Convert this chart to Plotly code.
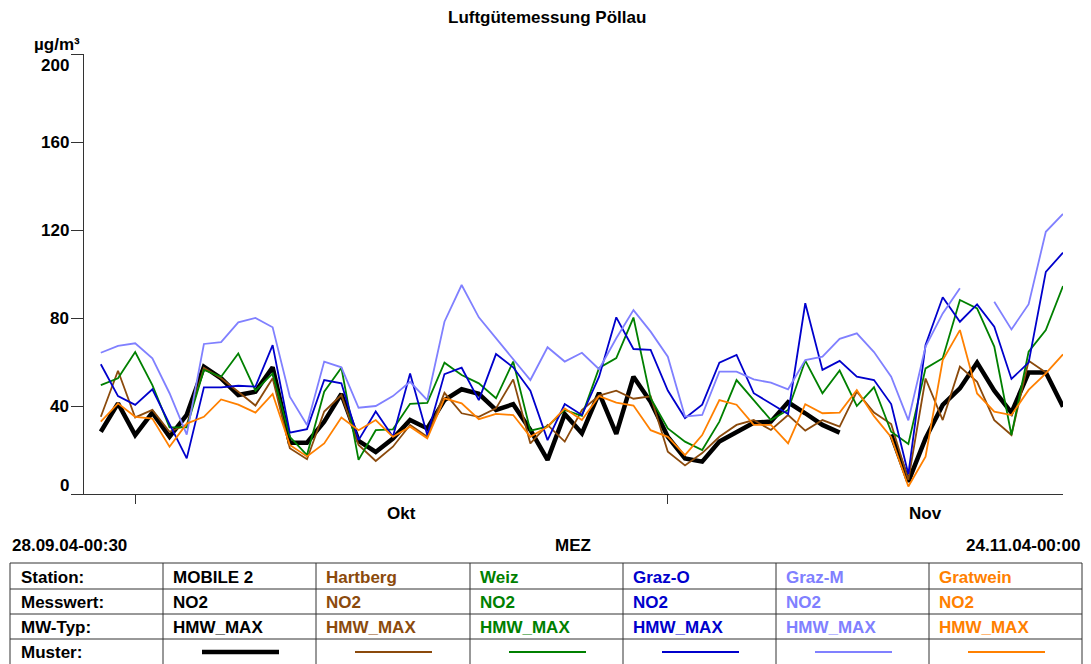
import plotly.graph_objects as go
import pandas as pd

# ---------------- data ----------------
dates = pd.date_range("2004-09-29", periods=57, freq="D")

stations = ["MOBILE 2", "Hartberg", "Weiz", "Graz-O", "Graz-M", "Gratwein"]
messwert = ["NO2"] * 6
mw_typ = ["HMW_MAX"] * 6

mobile2 = [28.3, 41.2, 26.8, 37.0, 26.0, 36.0, 57.9, 52.6, 45.0, 46.5,
           57.6, 23.3, 23.3, 32.9, 45.5, 24.2, 19.1, 25.2, 33.6,
           29.8, 42.7, 47.6, 45.5, 38.2, 40.8, 29.1, 15.5, 36.4,
           27.6, 46.0, 27.3, 53.3, 41.9, 26.0, 16.2, 14.7, 23.8,
           28.3, 32.4, 32.9, 41.7, 36.7, 31.4, 27.9, None, None,
           27.0, 5.6, 25.3, 40.5, 48.0, 59.7, 47.0, 37.0, 55.2, 55.2, 39.7]

hartberg = [35.1, 56.0, 34.8, 38.2, 28.3, 31.4, 57.3, 52.6, 46.5, 40.2,
            52.6, 20.8, 15.8, 37.5, 45.0, 22.3, 15.0, 21.5, 31.4,
            26.0, 46.0, 36.7, 35.1, 38.9, 52.1, 23.0, 31.4, 23.8,
            38.2, 44.7, 47.0, 43.3, 44.4, 19.2, 13.0, 18.6, 26.0,
            31.4, 33.6, 29.1, 35.9, 28.8, 33.6, 30.6, 46.5, 37.0, 31.8,
            6.4, 52.5, 33.6, 57.9, 51.0, 33.6, 26.8, 60.6, 55.2, None]

weiz = [49.5, 52.6, 64.5, 49.5, 30.3, 30.3, 56.4, 53.3, 63.9, 47.0,
        54.8, 26.0, 17.7, 46.5, 57.4, 15.5, 29.0, 29.4, 41.0,
        41.4, 59.7, 54.1, 50.3, 43.5, 60.2, 28.8, 30.6, 38.2,
        35.5, 57.3, 61.8, 80.2, 43.5, 29.8, 23.8, 20.0, 32.9,
        51.8, 42.7, 33.6, 38.2, 60.6, 45.8, 56.1, 40.0, 48.5, 28.3,
        22.7, 57.1, 61.7, 88.2, 84.4, 67.0, 26.8, 64.7, 74.5, 94.5]

graz_o = [59.0, 44.5, 40.5, 47.6, 31.8, 16.2, 48.5, 48.5, 49.2, 48.8,
          67.7, 27.9, 29.5, 51.8, 50.3, 24.5, 37.5, 26.0, 54.8,
          26.8, 54.5, 57.4, 42.7, 63.6, 57.6, 47.0, 24.5, 40.9,
          35.9, 53.3, 80.3, 65.9, 65.5, 47.0, 34.5, 40.6, 59.7,
          63.2, 45.8, 41.2, 36.4, 86.7, 56.4, 60.5, 53.3, 51.8, 40.9,
          9.0, 67.7, 89.4, 78.3, 86.2, 76.0, 52.3, 59.7, 101.0, 109.7]

graz_m = [64.2, 67.3, 68.5, 61.7, 45.8, 27.0, 68.2, 69.0, 78.0, 80.0,
          75.8, 44.2, 31.4, 60.2, 57.6, 39.2, 40.0, 44.5, 51.0,
          42.7, 78.3, 95.0, 80.3, 70.8, 61.2, 51.8, 66.7, 60.2,
          64.2, 56.7, 70.8, 83.6, 73.8, 62.4, 35.2, 35.9, 55.6,
          55.6, 52.1, 50.6, 47.6, 60.9, 62.4, 70.5, 73.0, 64.5, 53.3,
          33.5, 67.0, 82.1, 93.5, None, 87.4, 74.8, 86.3, 119.2, 127.3]

gratwein = [32.9, 41.2, 35.1, 34.3, 21.5, 32.0, 35.1, 43.0, 40.6, 37.0,
            45.5, 22.3, 17.1, 23.0, 34.8, 29.0, 33.6, 26.0, 30.6,
            25.3, 43.5, 41.2, 34.0, 36.4, 35.9, 26.0, 30.6, 38.9,
            33.6, 44.5, 41.5, 40.2, 29.0, 26.0, 17.7, 26.8, 42.7,
            40.6, 31.4, 31.4, 23.0, 40.8, 36.7, 37.0, 47.3, 35.4, 25.8,
            3.4, 17.0, 60.9, 74.5, 45.7, 37.4, 35.9, 47.3, 54.8, 63.5]

series = [mobile2, hartberg, weiz, graz_o, graz_m, gratwein]

y_ticks = [0, 40, 80, 120, 160, 200]
month_ticks = ["2004-10-01", "2004-11-01"]
month_labels = ["Okt", "Nov"]
month_label_pos = ["2004-10-16 12:00", "2004-11-16"]
x_start, x_end = "2004-09-28 00:30", "2004-11-24 00:00"

# ---------------- styles ----------------
colors = ["#000000", "#8B4A0C", "#008000", "#0000CC", "#8080FF", "#FF8000"]
widths = [4.5, 1.8, 1.8, 1.8, 1.8, 1.8]

W, H = 1091, 664
L, R, T, B = 84, 1063, 54, 494
FONT = "Liberation Sans, Arial, Helvetica, sans-serif"
FS = 17


def px(x):
    return (x - L) / (R - L)


def py(y):
    return (B - y) / (B - T)


fig = go.Figure()
for name, vals, c, w in zip(stations, series, colors, widths):
    fig.add_trace(go.Scatter(x=dates, y=vals, mode="lines", name=name,
                             line=dict(color=c, width=w), connectgaps=False))

annotations = []
shapes = []


def txt(x, y, s, anchor="left", color="#000", size=FS):
    annotations.append(dict(xref="paper", yref="paper", x=px(x), y=py(y),
                            text="<b>%s</b>" % s, showarrow=False,
                            xanchor=anchor, yanchor="middle",
                            font=dict(family=FONT, size=size, color=color)))


def line(x0, y0, x1, y1, color="#333", width=1):
    shapes.append(dict(type="line", xref="paper", yref="paper",
                       x0=px(x0), y0=py(y0), x1=px(x1), y1=py(y1),
                       line=dict(color=color, width=width)))


# title and unit
txt(547, 17, "Luftgütemessung Pöllau", "center")
txt(82, 45, "µg/m³", "right")

# y tick labels (top and bottom labels are pulled inward)
for v in y_ticks:
    shift = 0
    if v == 200:
        shift = -11
    elif v == 0:
        shift = 9
    annotations.append(dict(xref="paper", yref="y", x=px(71), y=v, yshift=shift,
                            text="<b>%d</b>" % v, showarrow=False,
                            xanchor="right", yanchor="middle",
                            font=dict(family=FONT, size=FS, color="#000")))

# month labels
for pos, lab in zip(month_label_pos, month_labels):
    annotations.append(dict(xref="x", yref="paper", x=pos, y=py(513),
                            text="<b>%s</b>" % lab, showarrow=False,
                            xanchor="center", yanchor="middle",
                            font=dict(family=FONT, size=FS, color="#000")))

# period row
txt(10, 545, "28.09.04-00:30", "left")
txt(573, 545, "MEZ", "center")
txt(1082, 545, "24.11.04-00:00", "right")

# table
col_x = [10, 163, 316, 470, 623, 776, 929, 1082]
row_y = [563, 589, 614, 639, 664]
for yy in row_y[:-1]:
    line(col_x[0], yy, col_x[-1], yy)
for xx in col_x:
    line(xx, row_y[0], xx, 664)

row_labels = ["Station:", "Messwert:", "MW-Typ:", "Muster:"]
row_centers = [577, 602, 627, 652]
for lab, yc in zip(row_labels, row_centers):
    txt(19, yc, lab)

for i in range(6):
    cx = col_x[i + 1]
    txt(cx + 8, row_centers[0], stations[i], color=colors[i])
    txt(cx + 8, row_centers[1], messwert[i], color=colors[i])
    txt(cx + 8, row_centers[2], mw_typ[i], color=colors[i])
    line(cx + 39, 652, cx + 116, 652, color=colors[i], width=widths[i])

fig.update_layout(
    width=W, height=H,
    margin=dict(l=L, r=W - R, t=T, b=H - B, pad=0),
    paper_bgcolor="white", plot_bgcolor="white",
    showlegend=False,
    annotations=annotations, shapes=shapes,
    xaxis=dict(type="date", range=[x_start, x_end], showgrid=False, zeroline=False,
               showline=True, linecolor="#333", linewidth=1,
               tickvals=month_ticks, ticktext=["", ""], ticks="outside",
               ticklen=9, tickcolor="#333", tickwidth=1),
    yaxis=dict(range=[0, 200], showgrid=False, zeroline=False,
               showline=True, linecolor="#333", linewidth=1,
               tickvals=y_ticks, showticklabels=False, ticks="outside",
               ticklen=12, tickcolor="#333", tickwidth=1),
)

fig.write_html("out.html")
